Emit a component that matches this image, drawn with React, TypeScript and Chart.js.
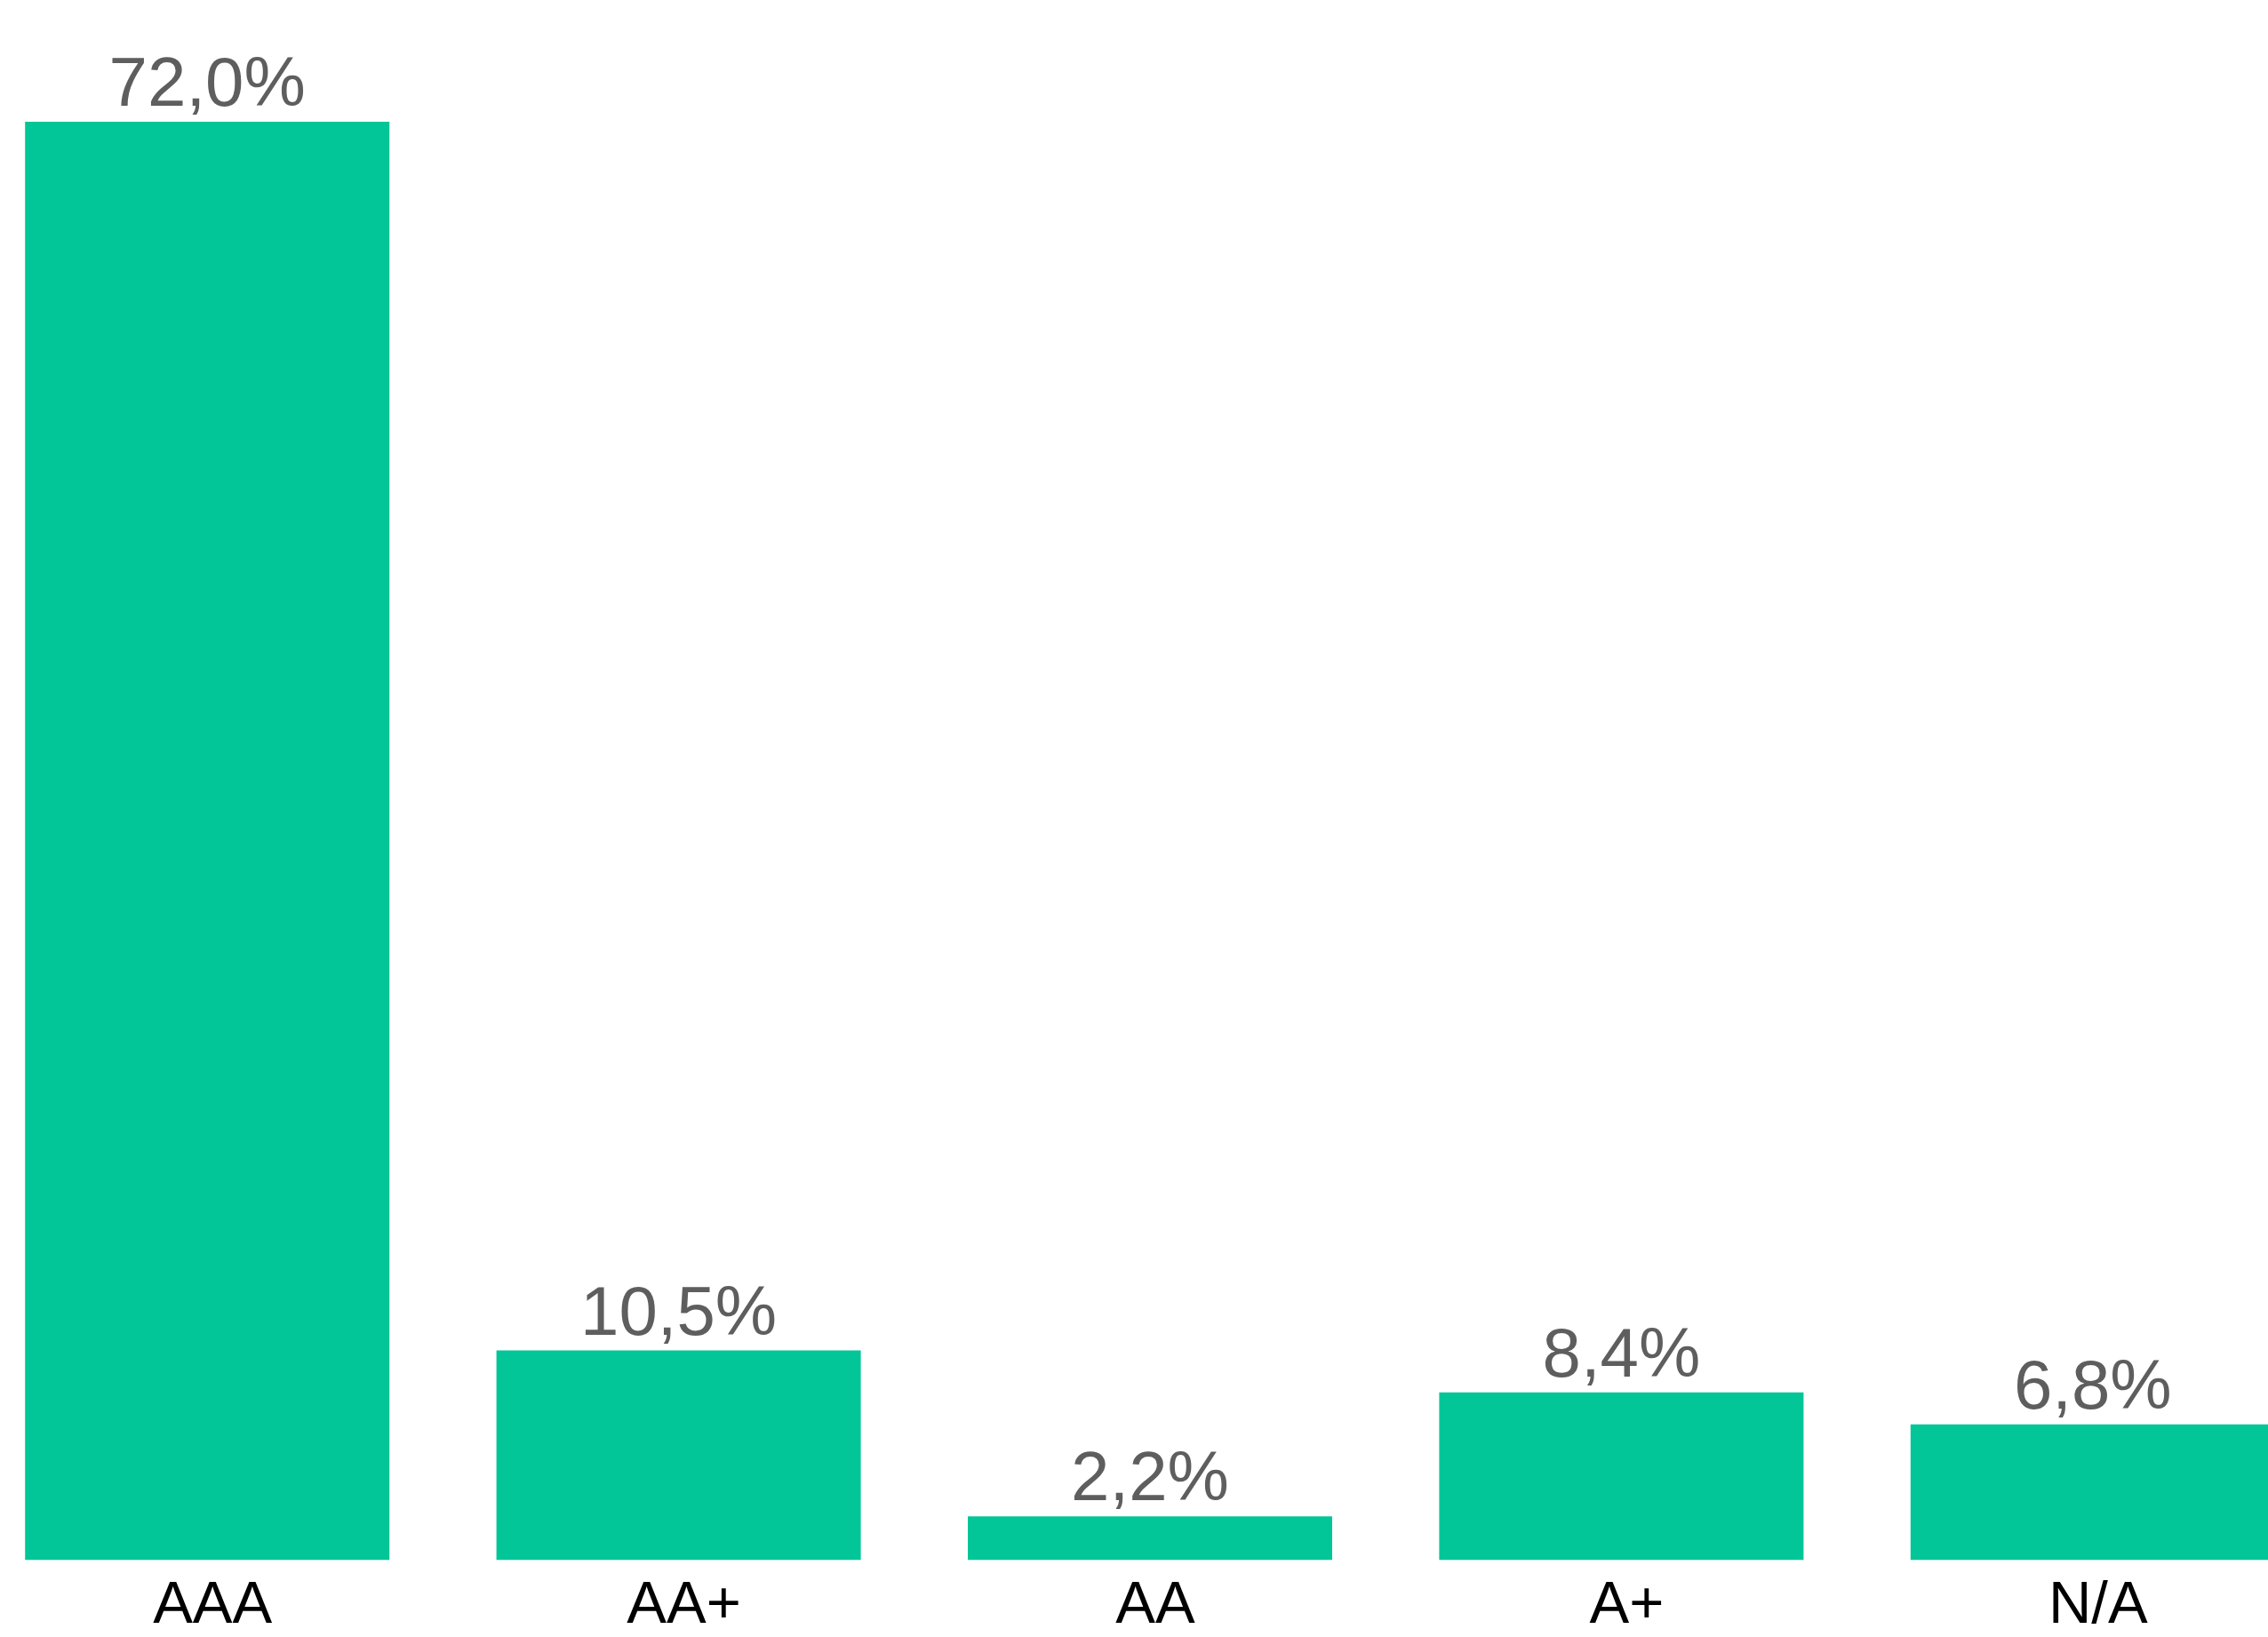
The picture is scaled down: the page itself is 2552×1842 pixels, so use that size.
import React, { useEffect, useRef } from "react";
import { Chart, registerables } from "chart.js";

Chart.register(...registerables);

const categories = ["AAA", "AA+", "AA", "A+", "N/A"];
const values = [72.0, 10.5, 2.2, 8.4, 6.8];
const valueLabels = ["72,0%", "10,5%", "2,2%", "8,4%", "6,8%"];

const BAR_COLOR = "#02C697";
const LABEL_COLOR = "#5E5E5E";
const FONT = "'Liberation Sans', Arial, sans-serif";

const valueLabelPlugin = {
  id: "valueLabels",
  afterDatasetsDraw(chart: any) {
    const ctx = chart.ctx;
    const meta = chart.getDatasetMeta(0);
    ctx.save();
    ctx.font = `78px ${FONT}`;
    ctx.fillStyle = LABEL_COLOR;
    ctx.textAlign = "center";
    ctx.textBaseline = "alphabetic";
    meta.data.forEach((bar: any, i: number) => {
      ctx.fillText(valueLabels[i], bar.x, bar.y - 18);
    });
    ctx.restore();
  },
};

export default function App() {
  const canvasRef = useRef<HTMLCanvasElement | null>(null);

  useEffect(() => {
    if (!canvasRef.current) return;
    const chart = new Chart(canvasRef.current, {
      type: "bar",
      data: {
        labels: categories,
        datasets: [
          {
            data: values,
            backgroundColor: BAR_COLOR,
            borderWidth: 0,
            categoryPercentage: 1,
            barPercentage: 0.773,
          },
        ],
      },
      options: {
        animation: false,
        responsive: false,
        maintainAspectRatio: false,
        layout: { padding: { top: 137, left: 0, right: 0, bottom: 0 } },
        plugins: {
          legend: { display: false },
          tooltip: { enabled: false },
        },
        scales: {
          x: {
            grid: { display: false, drawTicks: false },
            border: { display: false },
            ticks: {
              color: "#000000",
              font: { family: FONT, size: 67 },
              padding: 12,
              labelOffset: 6,
            },
          },
          y: {
            display: false,
            min: 0,
            max: 72,
          },
        },
      },
      plugins: [valueLabelPlugin],
    });
    return () => chart.destroy();
  }, []);

  return (
    <div
      style={{
        position: "fixed",
        left: 0,
        top: 0,
        width: 2552,
        height: 1842,
        overflow: "hidden",
        background: "#ffffff",
      }}
    >
      <canvas
        ref={canvasRef}
        width={2652}
        height={1860}
        style={{ position: "absolute", left: -32, top: 0, width: 2652, height: 1860 }}
      />
    </div>
  );
}
